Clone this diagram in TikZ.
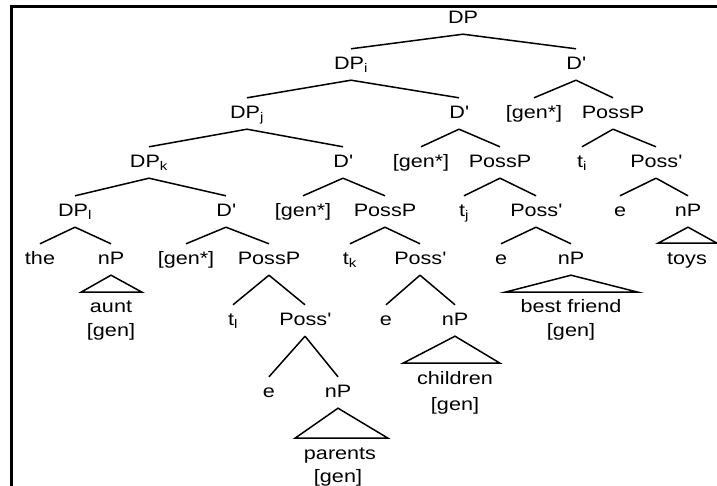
\documentclass[tikz,border=0pt]{standalone}
\usepackage{fontspec}
\setmainfont{Liberation Sans}[FakeStretch=1.2]

\newcommand{\prm}{\textquotesingle}

\tikzset{
  cat/.style={anchor=base, inner xsep=1pt, inner ysep=7pt,
    text height=13.5pt, text depth=3.5pt, font=\fontsize{18}{21}\selectfont},
  leaf/.style={anchor=base, inner sep=0pt, font=\fontsize{18}{21}\selectfont},
  branch/.style={line width=1.5pt},
  roof/.style={line width=1.5pt, line join=miter},
}

\begin{document}
\begin{tikzpicture}[x=1pt,y=-1pt]
    \useasboundingbox (0,0) rectangle (717,486);

    % frame
    \draw[line width=3pt] (11,490) -- (11,7) -- (720,7);

    % row 0 and 1
    \node[cat] (dp) at (463,23.5) {DP};
    \node[cat] (dpi) at (351,69.5) {DP\textsubscript{i}};
    \node[cat] (dbarA) at (576,69.5) {D\prm};

    % row 2
    \node[cat] (dpj) at (247,118.5) {DP\textsubscript{j}};
    \node[cat] (dbarB) at (459,118.5) {D\prm};
    \node[cat] (genA) at (534,118.5) {[gen*]};
    \node[cat] (posspA) at (613,118.5) {PossP};

    % row 3
    \node[cat] (dpk) at (149,167.5) {DP\textsubscript{k}};
    \node[cat] (dbarC) at (343,167.5) {D\prm};
    \node[cat] (genB) at (421,167.5) {[gen*]};
    \node[cat] (posspB) at (500,167.5) {PossP};
    \node[cat] (ti) at (582,167.5) {t\textsubscript{i}};
    \node[cat] (possbarA) at (656,167.5) {Poss\prm};

    % row 4
    \node[cat] (dpl) at (75,216.5) {DP\textsubscript{l}};
    \node[cat] (dbarD) at (226,216.5) {D\prm};
    \node[cat] (genC) at (303,216.5) {[gen*]};
    \node[cat] (posspC) at (385,216.5) {PossP};
    \node[cat] (tj) at (464,216.5) {t\textsubscript{j}};
    \node[cat] (possbarB) at (536,216.5) {Poss\prm};
    \node[cat] (eA) at (620,216.5) {e};
    \node[cat] (npA) at (688,216.5) {nP};

    % row 5
    \node[cat] (the) at (40,264.5) {the};
    \node[cat] (npB) at (111,264.5) {nP};
    \node[cat] (genD) at (186,264.5) {[gen*]};
    \node[cat] (posspD) at (269,264.5) {PossP};
    \node[cat] (tk) at (350,264.5) {t\textsubscript{k}};
    \node[cat] (possbarC) at (420,264.5) {Poss\prm};
    \node[cat] (eB) at (501,264.5) {e};
    \node[cat] (npC) at (571,264.5) {nP};

    % row 6 and 7
    \node[cat] (tl) at (233,325.5) {t\textsubscript{l}};
    \node[cat] (possbarD) at (305,325.5) {Poss\prm};
    \node[cat] (eC) at (386,325.5) {e};
    \node[cat] (npD) at (455,325.5) {nP};
    \node[cat] (eD) at (269,397.5) {e};
    \node[cat] (npE) at (338,397.5) {nP};

    % branches
    \foreach \a/\b in {dp/dpi, dp/dbarA, dpi/dpj, dpi/dbarB, dbarA/genA, dbarA/posspA,
        dpj/dpk, dpj/dbarC, dbarB/genB, dbarB/posspB, posspA/ti, posspA/possbarA,
        dpk/dpl, dpk/dbarD, dbarC/genC, dbarC/posspC, posspB/tj, posspB/possbarB,
        possbarA/eA, possbarA/npA, dpl/the, dpl/npB, dbarD/genD, dbarD/posspD,
        posspC/tk, posspC/possbarC, possbarB/eB, possbarB/npC,
        posspD/tl, posspD/possbarD, possbarC/eC, possbarC/npD,
        possbarD/eD, possbarD/npE}
    \draw[branch] (\a.south) -- (\b.north);

    % roofs
    \draw[roof] (npA.south) -- ++(-30,16) -- ++(59,0) -- cycle;
    \draw[roof] (npB.south) -- ++(-30,17) -- ++(61,0) -- cycle;
    \draw[roof] (npC.south) -- ++(-66,17) -- ++(133,0) -- cycle;
    \draw[roof] (npD.south) -- ++(-52,27) -- ++(97,0) -- cycle;
    \draw[roof] (npE.south) -- ++(-43,30) -- ++(93,0) -- cycle;

    \node[leaf] (toys) at (687,264.5) {toys};
    \node[leaf] (aunt) at (111,312.5) {aunt};
    \node[leaf] (auntgen) at (111,336.5) {[gen]};
    \node[leaf] (friend) at (571,312.5) {best friend};
    \node[leaf] (friendgen) at (571,336.5) {[gen]};
    \node[leaf] (children) at (455,384.5) {children};
    \node[leaf] (childrengen) at (455,410) {[gen]};
    \node[leaf] (parents) at (340,459.5) {parents};
    \node[leaf] (parentsgen) at (338,482.5) {[gen]};
\end{tikzpicture}
\end{document}
